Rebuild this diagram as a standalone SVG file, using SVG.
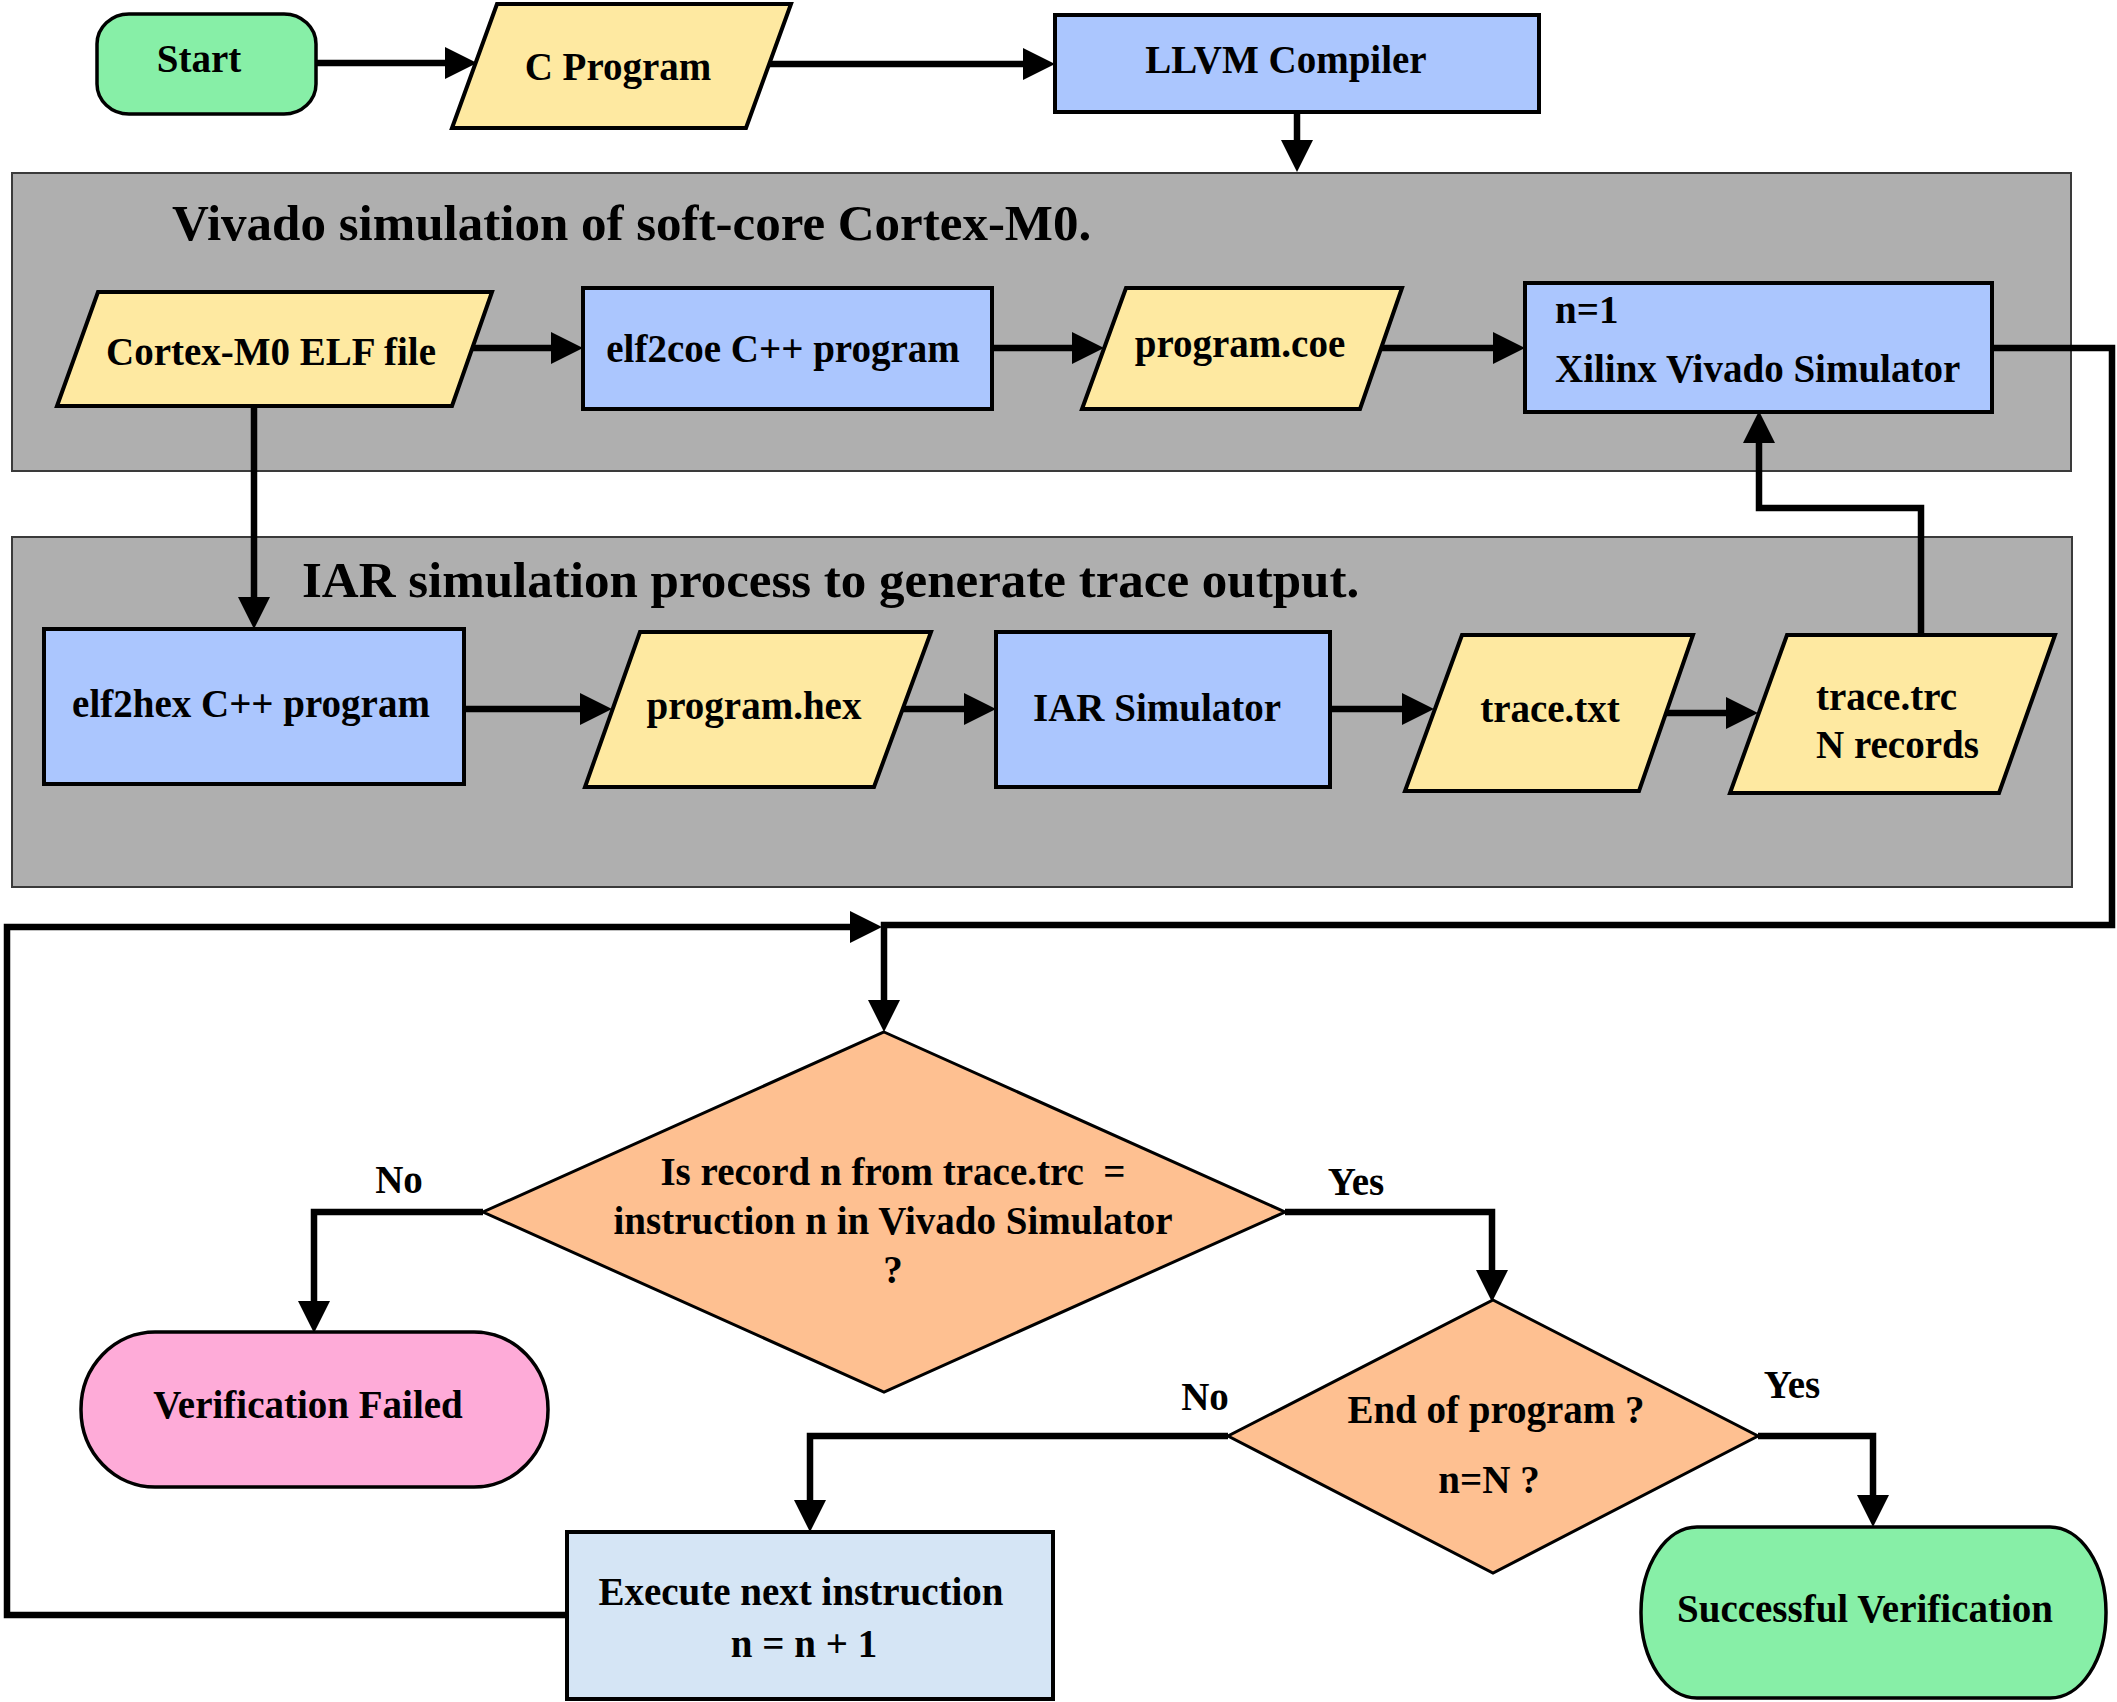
<svg xmlns="http://www.w3.org/2000/svg" width="2117" height="1702" viewBox="0 0 2117 1702">
<style>
text{font-family:"Liberation Serif","Times New Roman",serif;font-weight:bold;font-size:39px;fill:#000}
.title{font-size:51px}
.mid{text-anchor:middle}
.box{stroke:#000;stroke-width:4}
.data{fill:#fee9a1;stroke:#000;stroke-width:4}
.proc{fill:#abc6fe}
.cont{fill:#afafaf;stroke:#3a3a3a;stroke-width:2}
.dec{fill:#fec091;stroke:#000;stroke-width:3}
.term{stroke:#000;stroke-width:3.5}
.conn{fill:none;stroke:#000;stroke-width:6.5;stroke-linejoin:miter}
.arr{marker-end:url(#ah)}
</style>
<defs>
<marker id="ah" markerUnits="userSpaceOnUse" markerWidth="34" markerHeight="32" viewBox="-2 0 34 32" refX="0" refY="16" orient="auto">
<path d="M-2,0 L30,16 L-2,32 z" fill="#000"/>
</marker>
</defs>

<g id="container-vivado">
<rect class="cont" x="12" y="173" width="2059" height="298"/>
<text class="title" x="172" y="240">Vivado simulation of soft-core Cortex-M0.</text>
</g>
<g id="container-iar">
<rect class="cont" x="12" y="537" width="2060" height="350"/>
<text class="title" x="302" y="597">IAR simulation process to generate trace output.</text>
</g>

<g id="connectors">
<path class="conn arr" d="M316,63 H447"/>
<path class="conn arr" d="M769,64 H1025"/>
<path class="conn arr" d="M1297,112 V142"/>
<path class="conn arr" d="M470,348 H553"/>
<path class="conn arr" d="M992,348 H1074"/>
<path class="conn arr" d="M1380,348 H1495"/>
<path class="conn arr" d="M254,406 V599"/>
<path class="conn arr" d="M464,709 H582"/>
<path class="conn arr" d="M902,709 H966"/>
<path class="conn arr" d="M1330,709 H1404"/>
<path class="conn arr" d="M1666,713 H1728"/>
<path class="conn arr" d="M1921,635 V508 H1759 V441"/>
<path class="conn arr" d="M1992,348 H2112 V925 H884 V1002"/>
<path class="conn arr" d="M567,1615 H7 V927 H852"/>
<path class="conn arr" d="M483,1212 H314 V1303"/>
<path class="conn arr" d="M1285,1212 H1492 V1272"/>
<path class="conn arr" d="M1228,1436 H810 V1502"/>
<path class="conn arr" d="M1758,1436 H1873 V1497"/>
</g>

<g id="start">
<rect class="term" x="97" y="14" width="219" height="100" rx="32" ry="30" fill="#87efa7"/>
<text class="mid" x="199" y="72">Start</text>
</g>
<g id="c-program">
<polygon class="data" points="497,4 791,4 746,128 452,128"/>
<text class="mid" x="618" y="80">C Program</text>
</g>
<g id="llvm">
<rect class="box proc" x="1055" y="15" width="484" height="97"/>
<text class="mid" x="1286" y="73">LLVM Compiler</text>
</g>

<g id="elf-file">
<polygon class="data" points="98,292 492,292 452,406 57,406"/>
<text class="mid" x="271" y="365">Cortex-M0 ELF file</text>
</g>
<g id="elf2coe">
<rect class="box proc" x="583" y="288" width="409" height="121"/>
<text class="mid" x="783" y="362">elf2coe C++ program</text>
</g>
<g id="program-coe">
<polygon class="data" points="1126,288 1402,288 1360,409 1082,409"/>
<text class="mid" x="1240" y="357">program.coe</text>
</g>
<g id="vivado-sim">
<rect class="box proc" x="1525" y="283" width="467" height="129"/>
<text x="1555" y="323">n=1</text>
<text x="1555" y="382">Xilinx Vivado Simulator</text>
</g>

<g id="elf2hex">
<rect class="box proc" x="44" y="629" width="420" height="155"/>
<text class="mid" x="251" y="717">elf2hex C++ program</text>
</g>
<g id="program-hex">
<polygon class="data" points="640,632 931,632 874,787 585,787"/>
<text class="mid" x="754" y="719">program.hex</text>
</g>
<g id="iar-sim">
<rect class="box proc" x="996" y="632" width="334" height="155"/>
<text class="mid" x="1157" y="721">IAR Simulator</text>
</g>
<g id="trace-txt">
<polygon class="data" points="1462,635 1693,635 1639,791 1405,791"/>
<text class="mid" x="1550" y="722">trace.txt</text>
</g>
<g id="trace-trc">
<polygon class="data" points="1787,635 2055,635 1999,793 1730,793"/>
<text x="1816" y="710">trace.trc</text>
<text x="1816" y="758">N records</text>
</g>

<g id="decision-record">
<polygon class="dec" points="884,1032 1285,1212 884,1392 483,1212"/>
<text class="mid" x="893" y="1185" xml:space="preserve">Is record n from trace.trc  =</text>
<text class="mid" x="893" y="1234">instruction n in Vivado Simulator</text>
<text class="mid" x="893" y="1283">?</text>
<text class="mid" x="399" y="1193">No</text>
<text class="mid" x="1356" y="1195">Yes</text>
</g>
<g id="verification-failed">
<rect class="term" x="81" y="1332" width="467" height="155" rx="74" ry="77" fill="#feabd8"/>
<text class="mid" x="308" y="1418">Verification Failed</text>
</g>
<g id="decision-end">
<polygon class="dec" points="1493,1300 1758,1436 1493,1573 1228,1436"/>
<text class="mid" x="1496" y="1423">End of program ?</text>
<text class="mid" x="1489" y="1493">n=N ?</text>
<text class="mid" x="1205" y="1410">No</text>
<text class="mid" x="1792" y="1398">Yes</text>
</g>
<g id="execute-next">
<rect class="box" x="567" y="1532" width="486" height="167" fill="#d5e5f5"/>
<text class="mid" x="801" y="1605">Execute next instruction</text>
<text class="mid" x="804" y="1657">n = n + 1</text>
</g>
<g id="successful">
<rect class="term" x="1641" y="1527" width="465" height="171" rx="56" ry="85" fill="#87efa7"/>
<text class="mid" x="1865" y="1622">Successful Verification</text>
</g>
</svg>
